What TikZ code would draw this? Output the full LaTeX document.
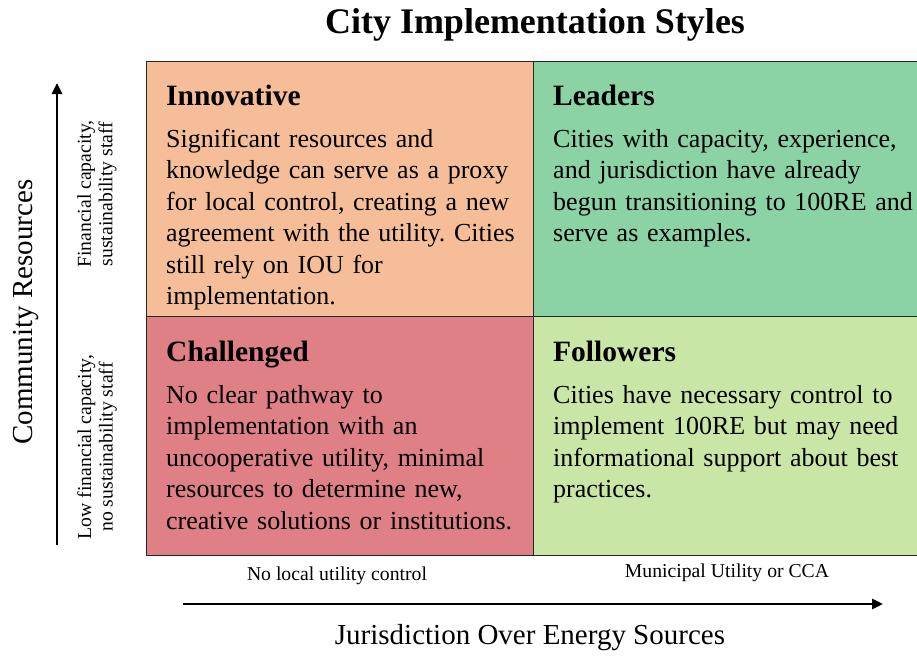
\documentclass[tikz,border=0pt]{standalone}
\usepackage{fontspec}
\setmainfont{Liberation Serif}
\usetikzlibrary{arrows.meta}
\frenchspacing
\definecolor{innov}{RGB}{246,190,152}
\definecolor{leader}{RGB}{139,210,164}
\definecolor{challg}{RGB}{222,128,134}
\definecolor{follow}{RGB}{201,230,167}
\tikzset{
  quad/.style={draw=black!85, line width=1.3pt, anchor=north west, inner sep=0pt},
  qhead/.style={anchor=base west, inner sep=0pt, font=\fontsize{29.5}{34}\selectfont\bfseries},
  qbody/.style={anchor=base west, inner sep=0pt, align=left, text width=365pt,
    font=\fontsize{26}{31.5}\selectfont},
  small/.style={inner sep=0pt, align=center, font=\fontsize{19.7}{21.5}\selectfont},
  axislabel/.style={inner sep=0pt, font=\fontsize{29}{34}\selectfont},
  axis/.style={line width=2.6pt, -{Triangle[length=11pt,width=10pt]}}
}
\begin{document}
\begin{tikzpicture}[x=1pt,y=-1pt]
\clip (0,0) rectangle (917,656);
\fill[white] (0,0) rectangle (917,656);

% title
\node[anchor=base, inner sep=0pt, font=\fontsize{36}{40}\selectfont\bfseries] (title) at (535,33) {City Implementation Styles};

% quadrants
\node[quad, fill=innov, minimum width=387pt, minimum height=255pt] (qi) at (146,60.5) {};
\node[quad, fill=leader, minimum width=400pt, minimum height=255pt] (ql) at (533,60.5) {};
\node[quad, fill=challg, minimum width=387pt, minimum height=239pt] (qc) at (146,315.5) {};
\node[quad, fill=follow, minimum width=400pt, minimum height=239pt] (qf) at (533,315.5) {};

% quadrant texts
\node[qhead] (hi) at (166,105) {Innovative};
\node[qbody] (bi) at (166,147) {Significant resources and\\knowledge can serve as a proxy\\for local control, creating a new\\agreement with the utility. Cities\\still rely on IOU for\\implementation.};
\node[qhead] (hl) at (553,105) {Leaders};
\node[qbody] (bl) at (553,147) {Cities with capacity, experience,\\and jurisdiction have already\\begun transitioning to 100RE and\\serve as examples.};
\node[qhead] (hc) at (166,361) {Challenged};
\node[qbody] (bc) at (166,403) {No clear pathway to\\implementation with an\\uncooperative utility, minimal\\resources to determine new,\\creative solutions or institutions.};
\node[qhead] (hf) at (553,361) {Followers};
\node[qbody] (bf) at (553,403) {Cities have necessary control to\\implement 100RE but may need\\informational support about best\\practices.};

% vertical axis
\coordinate (vbot) at (57,545);
\coordinate (vtop) at (57,83);
\draw[axis] (vbot) -- (vtop);
\node[axislabel, rotate=90] (vlab) at (26,312) {Community Resources};
\node[small, rotate=90] (vhi) at (97,194) {Financial capacity,\\sustainability staff};
\node[small, rotate=90] (vlo) at (97,447) {Low financial capacity,\\no sustainability staff};

% horizontal axis
\coordinate (hleft) at (183,604);
\coordinate (hright) at (883,604);
\draw[axis] (hleft) -- (hright);
\node[small] (hlo) at (337,576) {No local utility control};
\node[small] (hhi) at (727,573) {Municipal Utility or CCA};
\node[axislabel] (hlab) at (530,638) {Jurisdiction Over Energy Sources};
\end{tikzpicture}
\end{document}
